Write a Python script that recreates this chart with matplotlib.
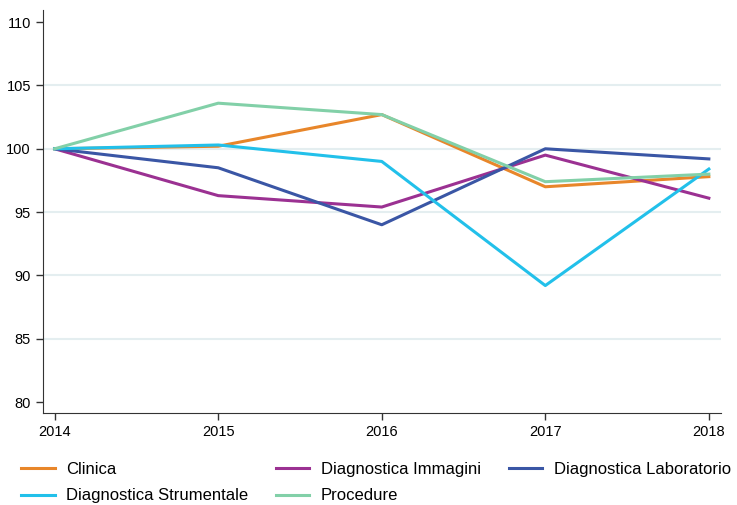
import matplotlib
matplotlib.use('Agg')
import matplotlib.pyplot as plt

# dati
anni = [2014, 2015, 2016, 2017, 2018]
clinica = [100, 100.2, 102.7, 97.0, 97.8]
diag_immagini = [100, 96.3, 95.4, 99.5, 96.1]
diag_laboratorio = [100, 98.5, 94.0, 100.0, 99.2]
diag_strumentale = [100, 100.3, 99.0, 89.2, 98.4]
procedure = [100, 103.6, 102.7, 97.4, 98.0]
y_ticks = [80, 85, 90, 95, 100, 105, 110]

serie = [
    ('Clinica', clinica, '#e8862a'),
    ('Diagnostica Immagini', diag_immagini, '#9b3192'),
    ('Diagnostica Laboratorio', diag_laboratorio, '#3a56a5'),
    ('Diagnostica Strumentale', diag_strumentale, '#22c0ea'),
    ('Procedure', procedure, '#82d0a8'),
]

plt.rcParams['font.family'] = ['Liberation Sans', 'DejaVu Sans']

fig = plt.figure(figsize=(7.37, 5.05), dpi=100)
ax = fig.add_axes([0.058, 0.182, 0.920, 0.798])

for y in [85, 90, 95, 100, 105]:
    ax.axhline(y, color='#e4eef0', lw=1.5, zorder=0)

linee = {}
for nome, valori, colore in serie:
    linee[nome], = ax.plot(anni, valori, color=colore, lw=2.2, label=nome)

ax.set_xlim(2013.927, 2018.073)
ax.set_ylim(79.13, 110.95)
ax.set_xticks(anni)
ax.set_yticks(y_ticks)
ax.tick_params(labelsize=10.5, length=5, width=1, color='#333333')
for s in ['top', 'right']:
    ax.spines[s].set_visible(False)
for s in ['left', 'bottom']:
    ax.spines[s].set_color('#333333')

# legenda riempita per righe
ordine = ['Clinica', 'Diagnostica Strumentale', 'Diagnostica Immagini',
          'Procedure', 'Diagnostica Laboratorio']
fig.legend([linee[n] for n in ordine], ordine, loc='upper left',
           bbox_to_anchor=(0.020, 0.099), ncol=3, frameon=False,
           fontsize=12, handlelength=2.0, handletextpad=0.7, columnspacing=1.65,
           labelspacing=0.7, borderaxespad=0)

fig.savefig('out.png', dpi=100)
